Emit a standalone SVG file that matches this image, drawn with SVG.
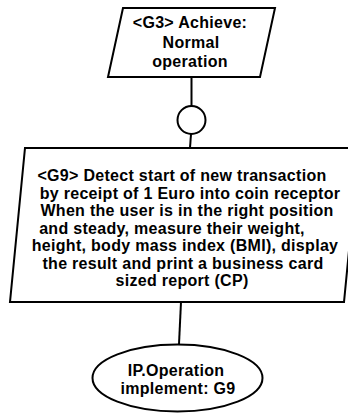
<svg xmlns="http://www.w3.org/2000/svg" width="348" height="414" viewBox="0 0 348 414">
<style>
.shape{fill:#fff;stroke:#000;stroke-width:2}
.conn{fill:none;stroke:#000;stroke-width:2}
text{font-family:"Liberation Sans",Arial,sans-serif;font-size:16px;font-weight:bold;fill:#000;text-anchor:middle;letter-spacing:0.3px}
</style>
<rect width="348" height="414" fill="#fff"/>
<g id="connectors">
<line class="conn" x1="191.5" y1="77" x2="191.5" y2="106"/>
<line class="conn" x1="191" y1="134" x2="190" y2="148"/>
<line class="conn" x1="181" y1="302" x2="179" y2="344"/>
</g>
<g id="G3">
<polygon class="shape" points="123,8 275,8 260,77 108,77"/>
<text x="190" y="28">&lt;G3&gt; Achieve:</text>
<text x="191" y="47.5">Normal</text>
<text x="190" y="67">operation</text>
</g>
<g id="or-circle">
<circle class="shape" cx="191.5" cy="120" r="14"/>
</g>
<g id="G9">
<polygon class="shape" points="25,148 359,148 344,302 10,302"/>
<text x="182" y="181">&lt;G9&gt; Detect start of new transaction</text>
<text x="190" y="198.5">by receipt of 1 Euro into coin receptor</text>
<text x="187" y="216">When the user is in the right position</text>
<text x="172" y="233.5">and steady, measure their weight,</text>
<text x="185" y="251">height, body mass index (BMI), display</text>
<text x="183" y="268.5">the result and print a business card</text>
<text x="182" y="286">sized report (CP)</text>
</g>
<g id="IP-Operation">
<ellipse class="shape" cx="177.5" cy="378" rx="85" ry="33.5"/>
<text x="176" y="376">IP.Operation</text>
<text x="178" y="394">implement: G9</text>
</g>
</svg>
